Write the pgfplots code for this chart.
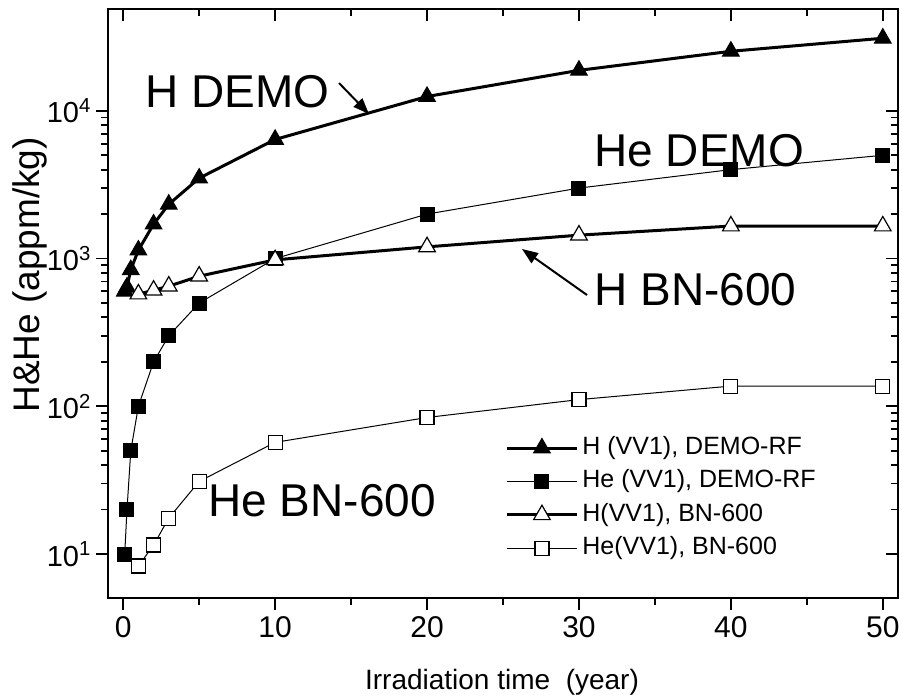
\documentclass[border=0pt]{standalone}
\usepackage{fontspec}
\setmainfont{Liberation Sans}
\usepackage{pgfplots}
\pgfplotsset{compat=1.18}
\usetikzlibrary{arrows.meta}
\pgfplotsset{
  mylegimg/.style={legend image code/.code={%
    \draw[##1,mark repeat=2,mark phase=2] plot coordinates {(0pt,0pt) (17.5pt,0pt) (35pt,0pt)};}},
  myaxisgeom/.style={
    at={(54pt,50pt)}, anchor=south west,
    scale only axis, width=395pt, height=294.5pt,
    xmin=-1, xmax=51, ymin=5.04, ymax=48900,
    xtick={0,10,...,50}, minor x tick num=1,
    ytick={10,100,1000,10000},
    axis line style={line width=1pt},
    major tick length=5.8pt, minor tick length=3.3pt,
    every tick/.append style={black, line width=0.9pt},
  },
}
\begin{document}
\begin{tikzpicture}
\useasboundingbox (0,0) rectangle (451pt,349pt);
\begin{axis}[ymode=log, myaxisgeom,
  xtick pos=left, ytick pos=left, tick align=outside,
  yticklabels={10\textsuperscript{1},10\textsuperscript{2},10\textsuperscript{3},10\textsuperscript{4}},
  xticklabels={0,10,20,30,40,50},
  xticklabel style={font=\fontsize{15}{17}\selectfont},
  yticklabel style={font=\fontsize{14.5}{17}\selectfont, xshift=1pt},
  legend style={at={(0.495,0.285)}, anchor=north west, draw=none, fill=none,
    font=\fontsize{12.5}{14}\selectfont, row sep=3.2pt,
    nodes={inner sep=1pt, text height=9pt, text depth=2.5pt},
    column sep=1pt},
  mylegimg,
  legend cell align=left,
]
\addplot[black, line width=1.5pt, mark=triangle*, mark size=4.8pt, mark options={solid, line width=0.5pt, fill=black}]
coordinates {(0.1,600) (0.25,640) (0.5,840) (1,1140) (2,1710) (3,2330) (5,3500) (10,6400) (20,12500) (30,18800) (40,25300) (50,31000)};
\addlegendentry{H (VV1), DEMO-RF}
\addplot[black, line width=0.5pt, mark=square*, mark size=3.5pt, mark options={solid, fill=black}]
coordinates {(0.1,10) (0.25,20) (0.5,50) (1,100) (2,200) (3,300) (5,500) (10,1000) (20,2000) (30,3000) (40,4000) (50,5000)};
\addlegendentry{He (VV1), DEMO-RF}
\addplot[black, line width=1.5pt, mark=triangle*, mark size=4.8pt, mark options={solid, line width=0.6pt, fill=white}]
coordinates {(1,575) (2,610) (3,650) (5,760) (10,980) (20,1200) (30,1440) (40,1660) (50,1660)};
\addlegendentry{H(VV1), BN-600}
\addplot[black, line width=0.5pt, mark=square*, mark size=3.5pt, mark options={solid, line width=0.6pt, fill=white}]
coordinates {(1,8.3) (2,11.5) (3,17.5) (5,31) (10,57) (20,84) (30,111) (40,137) (50,137)};
\addlegendentry{He(VV1), BN-600}
\end{axis}
\begin{axis}[ymode=log, myaxisgeom,
  xtick pos=right, ytick pos=right, tick align=inside,
  xticklabels={}, yticklabels={}]
\addplot[draw=none] coordinates {(0,10) (50,1000)};
\end{axis}
% axis labels
\node[anchor=base, inner sep=0, font=\fontsize{14}{16}\selectfont] at (251pt,4.5pt) {Irradiation time\ \ (year)};
\node[rotate=90, anchor=base west, inner sep=0, font=\fontsize{18.5}{20}\selectfont] at (20pt,142.5pt) {H\&He (appm/kg)};
% annotations
\node[anchor=base west, inner sep=0, font=\fontsize{23}{27}\selectfont] at (72.5pt,295pt) {H DEMO};
\node[anchor=base west, inner sep=0, font=\fontsize{23}{27}\selectfont] at (297pt,265.5pt) {He DEMO};
\node[anchor=base west, inner sep=0, font=\fontsize{23}{27}\selectfont] at (297pt,196.5pt) {H BN-600};
\node[anchor=base west, inner sep=0, font=\fontsize{23}{27}\selectfont] at (104pt,90.5pt) {He BN-600};
\draw[line width=1pt, -{Triangle[length=8pt,width=6pt]}] (169.5pt,307.5pt) -- (184.5pt,292pt);
\draw[line width=1pt, -{Triangle[length=8pt,width=6pt]}] (293.5pt,201.5pt) -- (261pt,224.5pt);
\end{tikzpicture}
\end{document}
